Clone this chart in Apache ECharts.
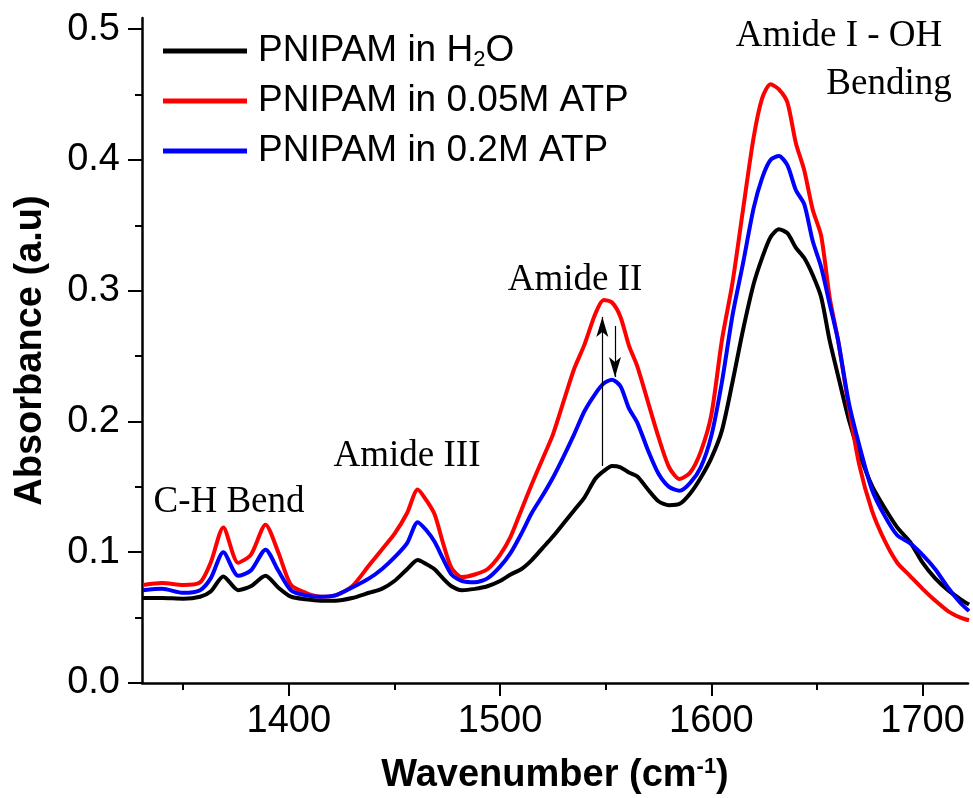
<!DOCTYPE html>
<html><head><meta charset="utf-8">
<script src="https://cdn.jsdelivr.net/npm/echarts@6/dist/echarts.min.js"></script>
<style>html,body{margin:0;padding:0;background:#fff}#c{width:973px;height:798px}</style>
</head><body><div id="c"></div>
<script>
const wavenumber = [1331,1340,1350,1358,1363,1369,1376,1382,1389,1395,1401,1408,1415,1422,1430,1438,1444,1450,1456,1461,1465,1469,1473,1477,1482,1488,1494,1500,1505,1510,1515,1520,1525,1530,1535,1540,1545,1549,1553,1557,1561,1565,1570,1575,1580,1585,1590,1595,1600,1605,1610,1615,1620,1624,1628,1632,1636,1640,1644,1648,1652,1656,1660,1665,1670,1676,1682,1688,1694,1700,1706,1712,1718,1722];
const absH2O = [0.065,0.065,0.0645,0.066,0.070,0.0815,0.071,0.074,0.082,0.073,0.066,0.064,0.063,0.063,0.065,0.069,0.072,0.078,0.087,0.094,0.091,0.087,0.080,0.074,0.071,0.072,0.074,0.078,0.083,0.087,0.094,0.103,0.112,0.122,0.132,0.142,0.156,0.162,0.166,0.165,0.161,0.158,0.148,0.139,0.136,0.137,0.145,0.157,0.172,0.193,0.230,0.270,0.305,0.325,0.341,0.347,0.344,0.333,0.325,0.312,0.295,0.262,0.235,0.202,0.176,0.151,0.134,0.119,0.108,0.092,0.080,0.071,0.064,0.060];
const abs005ATP = [0.075,0.0765,0.075,0.077,0.092,0.119,0.092,0.098,0.121,0.100,0.075,0.069,0.066,0.067,0.074,0.090,0.102,0.114,0.130,0.148,0.140,0.129,0.107,0.088,0.081,0.083,0.087,0.098,0.112,0.132,0.152,0.171,0.190,0.215,0.240,0.259,0.282,0.293,0.291,0.280,0.258,0.242,0.215,0.188,0.165,0.156,0.161,0.177,0.205,0.262,0.306,0.362,0.417,0.447,0.458,0.454,0.444,0.413,0.392,0.362,0.342,0.295,0.262,0.212,0.167,0.132,0.109,0.092,0.082,0.072,0.063,0.055,0.050,0.048];
const abs02ATP = [0.071,0.072,0.069,0.071,0.080,0.100,0.082,0.086,0.102,0.086,0.071,0.067,0.066,0.067,0.073,0.080,0.087,0.096,0.107,0.123,0.117,0.108,0.095,0.083,0.078,0.077,0.080,0.089,0.0995,0.114,0.130,0.143,0.157,0.173,0.190,0.208,0.221,0.229,0.232,0.227,0.210,0.199,0.178,0.160,0.150,0.147,0.153,0.165,0.189,0.230,0.281,0.321,0.363,0.386,0.400,0.403,0.396,0.377,0.366,0.338,0.318,0.290,0.262,0.215,0.182,0.148,0.128,0.113,0.107,0.098,0.087,0.073,0.061,0.055];
const seriesNames = ['PNIPAM in H2O','PNIPAM in 0.05M ATP','PNIPAM in 0.2M ATP'];
const seriesColors = ['#000000','#ff0000','#0000ff'];
const xMajorTicks = [1400,1500,1600,1700];
const xMinorTicks = [1350,1450,1550,1650];
const yMajorTicks = [0.0,0.1,0.2,0.3,0.4,0.5];
const yMinorTicks = [0.05,0.15,0.25,0.35,0.45];
const arrowUp = [1548.4, 0.166, 0.280];
const arrowDown = [1554.4, 0.273, 0.234];
const annotations = [
  {text:'C-H Bend', x:229, y:502},
  {text:'Amide III', x:407, y:456},
  {text:'Amide II', x:575, y:280},
  {text:'Amide I - OH', x:839, y:36},
  {text:'Bending', x:889, y:84}
];

const pair = arr => wavenumber.map((w,i)=>[w, arr[i]]);
const chart = echarts.init(document.getElementById('c'), null, {renderer:'canvas'});
const sansFont = 'Arial, "Liberation Sans", sans-serif';
const XMIN = 1330.5, XMAX = 1721.5, YMIN = 0, YMAX = 0.5086;

const mkSeries = (name, data, color, extra) => Object.assign({
  type:'line', name, data, xAxisIndex:0, yAxisIndex:0,
  showSymbol:false, symbol:'none', smooth:0.25,
  lineStyle:{color, width:4}, itemStyle:{color},
  animation:false, z:3
}, extra||{});

const option = {
  backgroundColor:'#ffffff',
  animation:false,
  grid:{left:142, right:5, top:18, bottom:115, containLabel:false, outerBoundsMode:'none'},
  legend:{
    orient:'vertical', left:163, top:31, padding:0, itemGap:10,
    itemWidth:84, itemHeight:5, icon:'rect',
    data:seriesNames,
    formatter: n => n.replace('H2O','H{sub|2}O'),
    textStyle:{fontFamily:sansFont, fontSize:37, color:'#000', lineHeight:40, padding:[0,0,0,6],
      rich:{sub:{fontFamily:sansFont, fontSize:22, color:'#000', verticalAlign:'bottom', lineHeight:26}}}
  },
  xAxis:[{
    type:'value', min:XMIN, max:XMAX, position:'bottom',
    name:'Wavenumber (cm{sup|-1})', nameLocation:'middle', nameGap:73,
    nameTextStyle:{fontFamily:sansFont, fontWeight:'bold', fontSize:38, color:'#000', lineHeight:40,
      rich:{sup:{fontFamily:sansFont, fontWeight:'bold', fontSize:22, color:'#000', verticalAlign:'top', lineHeight:22}}},
    axisLine:{show:true, onZero:false, lineStyle:{color:'#000', width:2.5}},
    axisTick:{show:true, inside:false, length:13, lineStyle:{color:'#000', width:2}, customValues:xMajorTicks},
    axisLabel:{show:true, margin:20, fontFamily:sansFont, fontSize:38, color:'#000', customValues:xMajorTicks,
      formatter: v => String(Math.round(v))},
    splitLine:{show:false}
  },{
    type:'value', min:XMIN, max:XMAX, position:'bottom',
    axisLine:{show:false, onZero:false},
    axisTick:{show:true, inside:false, length:7, lineStyle:{color:'#000', width:2}, customValues:xMinorTicks},
    axisLabel:{show:false},
    splitLine:{show:false}
  }],
  yAxis:[{
    type:'value', min:YMIN, max:YMAX, position:'left',
    name:'Absorbance (a.u)', nameLocation:'middle', nameGap:92, nameRotate:90,
    nameTextStyle:{fontFamily:sansFont, fontWeight:'bold', fontSize:38, color:'#000'},
    axisLine:{show:true, onZero:false, lineStyle:{color:'#000', width:2.5}},
    axisTick:{show:true, inside:false, length:14, lineStyle:{color:'#000', width:2}, customValues:yMajorTicks},
    axisLabel:{show:true, margin:22, fontFamily:sansFont, fontSize:38, color:'#000', customValues:yMajorTicks,
      formatter: v => Number(v).toFixed(1)},
    splitLine:{show:false}
  },{
    type:'value', min:YMIN, max:YMAX, position:'left',
    axisLine:{show:false, onZero:false},
    axisTick:{show:true, inside:false, length:7, lineStyle:{color:'#000', width:2}, customValues:yMinorTicks},
    axisLabel:{show:false},
    splitLine:{show:false}
  }],
  series:[
    mkSeries(seriesNames[0], pair(absH2O), seriesColors[0], {
      markLine:{
        silent:true, animation:false, symbol:['none','arrow'], symbolSize:[9,20],
        lineStyle:{color:'#000', width:1.2, type:'solid'}, label:{show:false},
        emphasis:{disabled:true},
        data:[
          [{coord:[arrowUp[0], arrowUp[1]]},{coord:[arrowUp[0], arrowUp[2]]}],
          [{coord:[arrowDown[0], arrowDown[1]]},{coord:[arrowDown[0], arrowDown[2]]}]
        ]
      }
    }),
    mkSeries(seriesNames[1], pair(abs005ATP), seriesColors[1]),
    mkSeries(seriesNames[2], pair(abs02ATP), seriesColors[2])
  ],
  graphic: annotations.map(a => ({
    type:'text', x:a.x, y:a.y, z:10,
    style:{text:a.text, font:'37px "Liberation Serif", "Times New Roman", serif', fill:'#000', align:'center', verticalAlign:'middle'}
  }))
};
chart.setOption(option);
</script>
</body></html>
